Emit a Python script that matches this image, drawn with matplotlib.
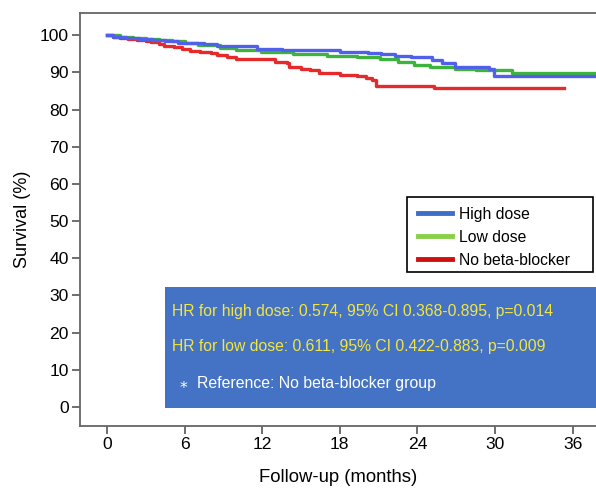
import matplotlib
matplotlib.use('Agg')
import matplotlib.pyplot as plt
from matplotlib.patches import Rectangle

plt.rcParams['font.family'] = ['Liberation Sans', 'DejaVu Sans']

# Kaplan-Meier style step curves (months, survival %)
high_t = [0, 0.5, 1.5, 2.5, 3.5, 4.5, 5.5, 6.5, 7.5, 8.5, 10.8, 11.6, 13.5, 18.0,
          20.2, 21.2, 22.3, 23.5, 25.1, 25.9, 26.9, 29.5, 29.9, 37.8]
high_s = [100, 99.5, 99.2, 98.9, 98.6, 98.3, 98.0, 97.8, 97.5, 97.2, 97.0, 96.2,
          95.9, 95.5, 95.1, 94.8, 94.5, 94.1, 93.3, 92.4, 91.5, 91.0, 89.0, 89.0]

low_t = [0, 1, 2, 3, 4, 5, 6, 7, 8.7, 10, 11.9, 14.4, 17, 19.3, 21.1, 22.5, 23.7,
         25.0, 26.9, 28.5, 31.3, 37.8]
low_s = [100, 99.6, 99.3, 99.0, 98.7, 98.3, 97.9, 97.3, 96.6, 96.1, 95.5, 94.9,
         94.5, 94.2, 93.5, 92.7, 92.0, 91.5, 90.9, 90.5, 89.9, 89.9]

none_t = [0, 0.5, 1.0, 1.6, 2.3, 3.0, 3.4, 4.0, 4.4, 5.2, 5.8, 6.4, 7.2, 8.0, 8.5,
          9.3, 10.0, 13.0, 13.9, 14.1, 15.0, 15.7, 16.4, 18.0, 19.3, 20.0, 20.5,
          20.8, 25.3, 35.3]
none_s = [100, 99.6, 99.3, 99.0, 98.7, 98.4, 98.1, 97.7, 97.2, 96.8, 96.3, 95.8,
          95.4, 95.1, 94.7, 94.2, 93.5, 92.8, 92.4, 91.5, 91.0, 90.5, 89.8, 89.4,
          88.9, 88.5, 87.9, 86.4, 85.7, 85.7]

x_ticks = [0, 6, 12, 18, 24, 30, 36]
y_ticks = [0, 10, 20, 30, 40, 50, 60, 70, 80, 90, 100]

hr_lines = ['HR for high dose: 0.574, 95% CI 0.368-0.895, p=0.014',
            'HR for low dose: 0.611, 95% CI 0.422-0.883, p=0.009']
ref_line = 'Reference: No beta-blocker group'

fig = plt.figure(figsize=(5.96, 4.88), dpi=100)
ax = fig.add_axes([0.134, 0.127, 0.866, 0.846])

ax.plot(low_t, low_s, drawstyle='steps-post', color='#3cb33c', lw=2.4, label='Low dose', zorder=3)
ax.plot(high_t, high_s, drawstyle='steps-post', color='#5060e8', lw=2.4, label='High dose', zorder=4)
ax.plot(none_t, none_s, drawstyle='steps-post', color='#e42a2a', lw=2.4, label='No beta-blocker', zorder=3)

ax.set_xlim(-2.1, 37.8)
ax.set_ylim(-5.1, 105.9)
ax.set_xticks(x_ticks)
ax.set_yticks(y_ticks)
ax.tick_params(labelsize=12.6, length=6, pad=2, color='#555555', width=1.2)
ax.set_xlabel('Follow-up (months)', fontsize=13.3, labelpad=12)
ax.set_ylabel('Survival (%)', fontsize=13, labelpad=6)
for side in ['left', 'bottom', 'top']:
    ax.spines[side].set_color('#666666')
    ax.spines[side].set_linewidth(1.3)
ax.spines['right'].set_visible(False)

# legend with its own colours; the frame is drawn separately (wider on the right)
h, l = ax.get_legend_handles_labels()
order = [1, 0, 2]
leg = ax.legend([h[i] for i in order], [l[i] for i in order], loc='upper left',
                bbox_to_anchor=(0.6455, 0.542), borderaxespad=0, fontsize=11.3,
                frameon=False, handlelength=2.2, borderpad=0.3, labelspacing=0.5,
                handletextpad=0.45)
leg.set_zorder(7)
for line, c in zip(leg.get_lines(), ['#3d6fc8', '#88d048', '#d01010']):
    line.set_color(c)
    line.set_linewidth(3.5)
ax.add_patch(Rectangle((0.634, 0.373), 0.360, 0.181, transform=ax.transAxes,
                       facecolor='white', edgecolor='black', lw=1.2, zorder=6))

# blue annotation box
ax.add_patch(Rectangle((4.45, -0.3), 40, 32.5, facecolor='#4472c4', edgecolor='none', zorder=5))
ax.text(5.0, 25.7, hr_lines[0], fontsize=11.35, color='#f2e640', va='center', zorder=6)
ax.text(5.0, 16.4, hr_lines[1], fontsize=11.35, color='#f2e640', va='center', zorder=6)
ax.text(5.64, 6.2, '\u204e', fontsize=11.3, color='white', va='center', zorder=6)
ax.text(6.95, 6.2, ref_line, fontsize=11.45, color='white', va='center', zorder=6)

fig.savefig('out.png', dpi=100)
